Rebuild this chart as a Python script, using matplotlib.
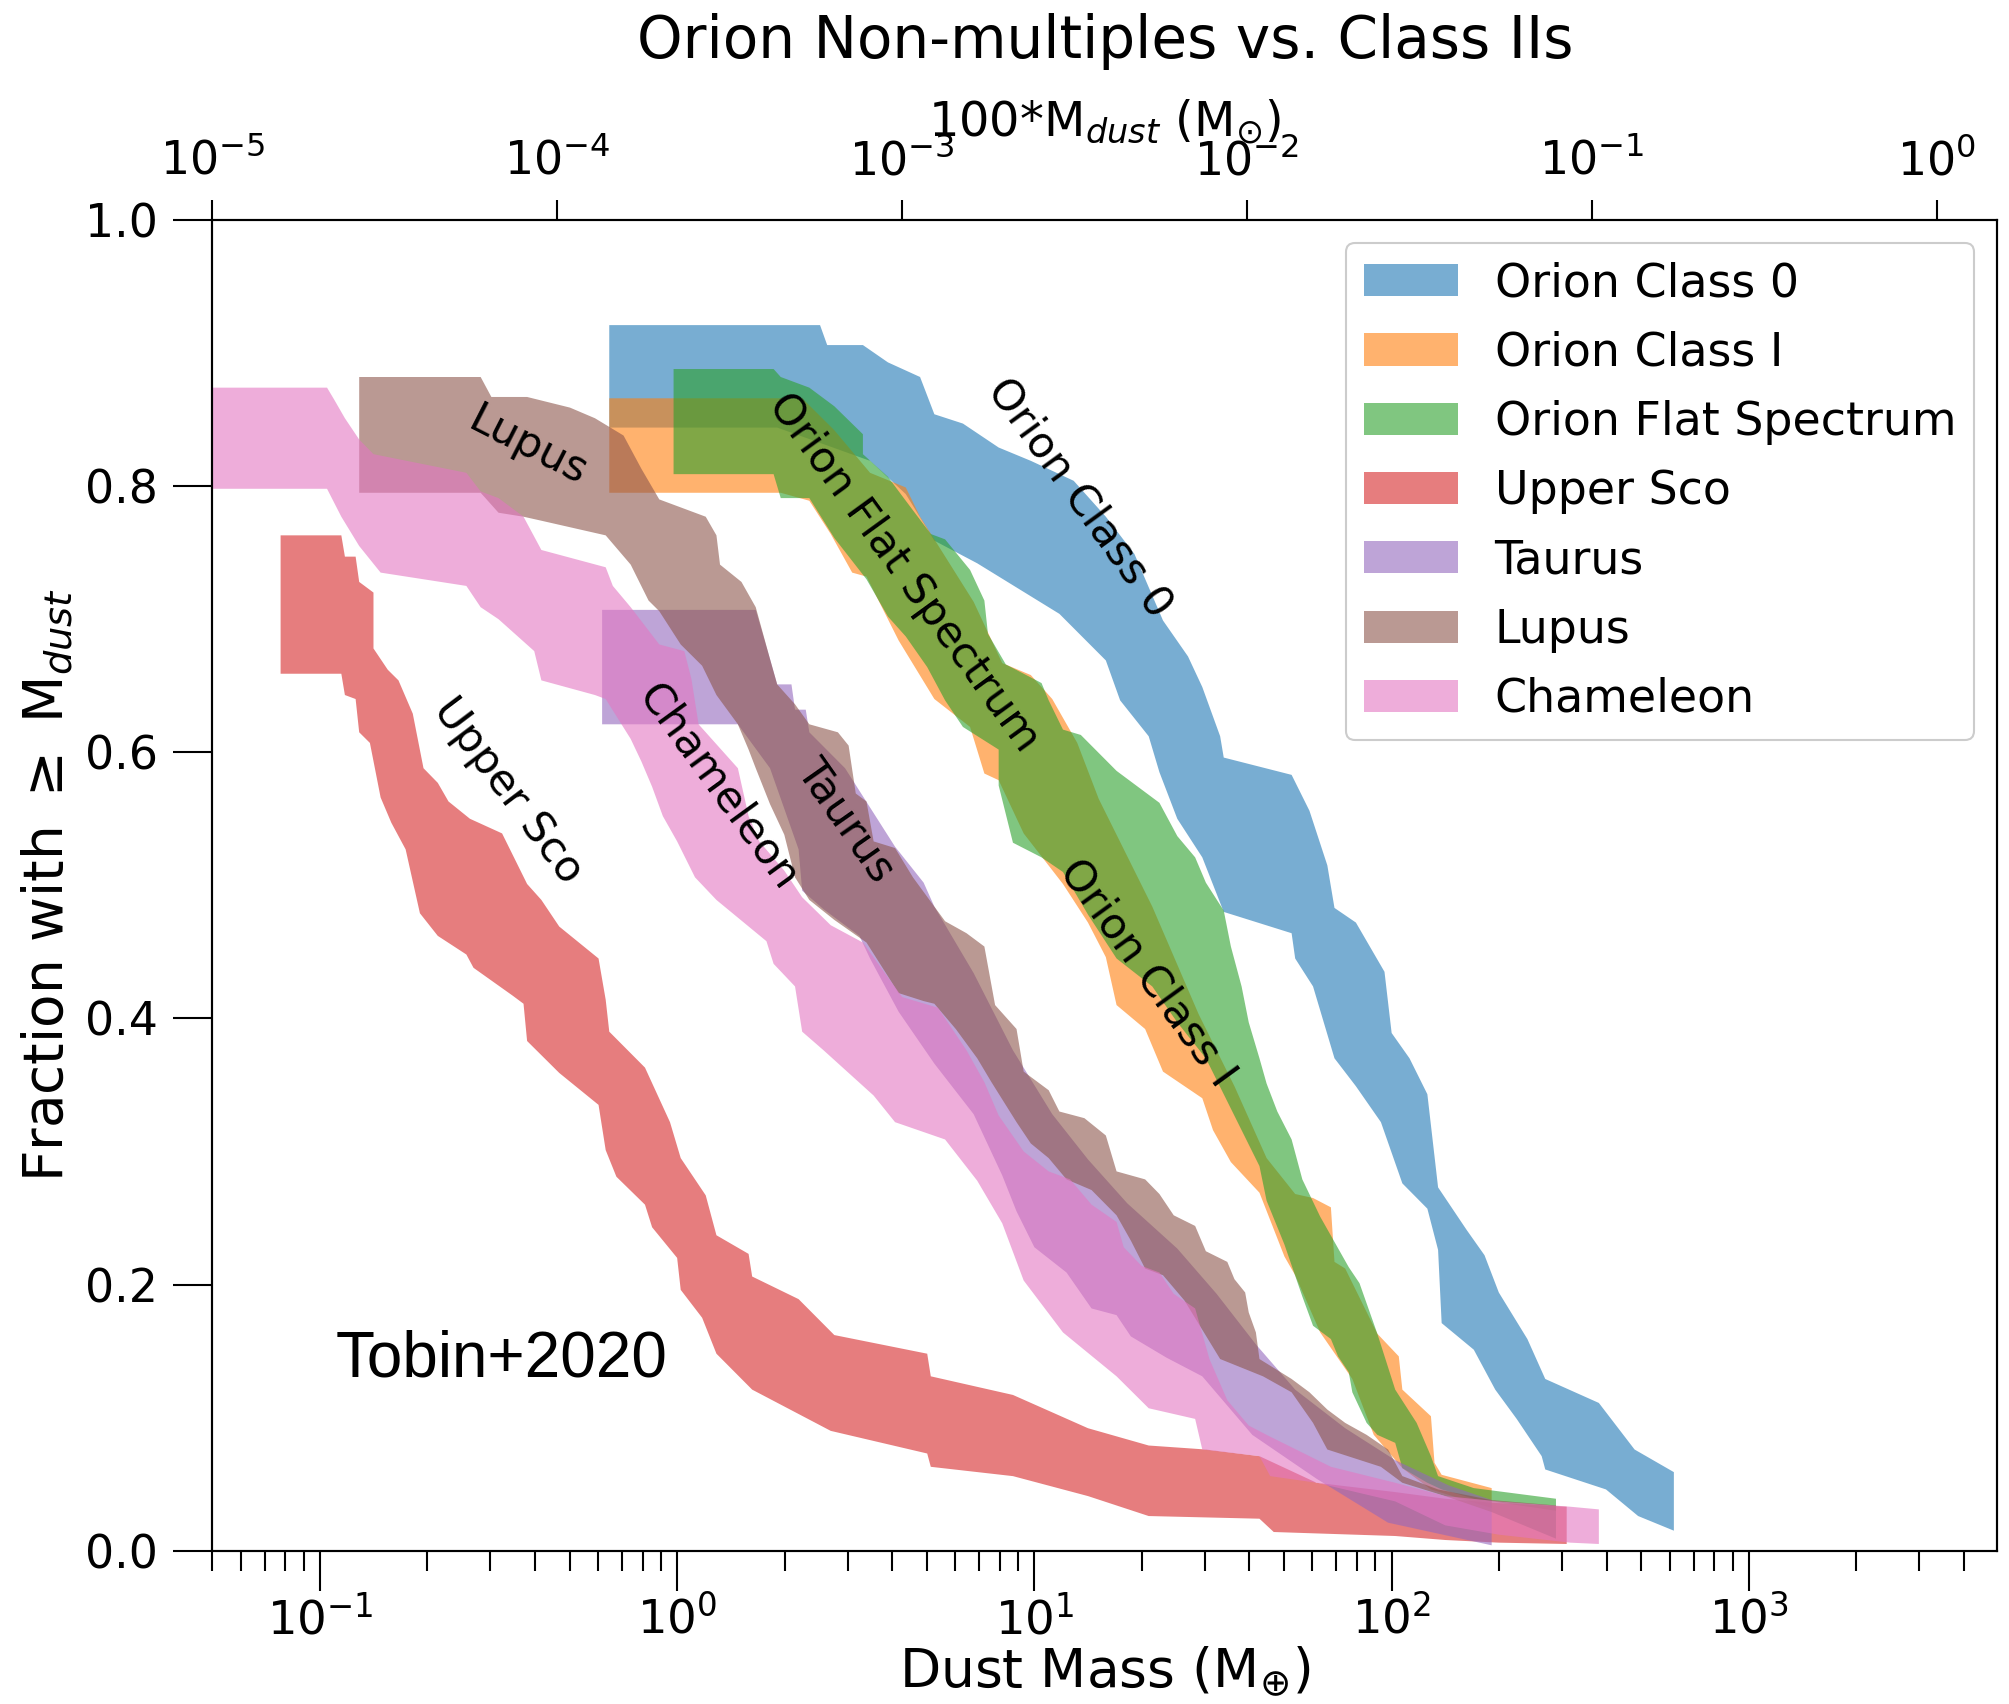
import numpy as np
import matplotlib
matplotlib.use("Agg")
import matplotlib.pyplot as plt
from matplotlib.ticker import LogLocator, NullLocator, NullFormatter

# ---------------- data: band edges, log10(M_dust / M_earth) and cumulative fraction ----------------
names = ["Orion Class 0", "Orion Class I", "Orion Flat Spectrum", "Upper Sco", "Taurus", "Lupus", "Chameleon"]
colors = ["#1f77b4", "#ff7f0e", "#2ca02c", "#d62728", "#9467bd", "#8c564b", "#e377c2"]

class0_hi_logm = [-0.19, 0.40, 0.42, 0.52, 0.59, 0.68, 0.72, 0.80, 0.90, 0.99, 1.11, 1.20, 1.28, 1.36, 1.43, 1.47, 1.52, 1.53,
                  1.72, 1.77, 1.82, 1.84, 1.90, 1.98, 2.00, 2.05, 2.10, 2.13, 2.21, 2.26, 2.30, 2.38, 2.43, 2.58, 2.68, 2.79]
class0_hi_frac = [0.921, 0.921, 0.906, 0.906, 0.893, 0.882, 0.854, 0.847, 0.829, 0.819, 0.804, 0.777, 0.749, 0.699, 0.672, 0.649,
                  0.612, 0.596, 0.583, 0.556, 0.515, 0.483, 0.472, 0.435, 0.389, 0.370, 0.343, 0.273, 0.241, 0.222, 0.194, 0.159,
                  0.129, 0.111, 0.076, 0.059]
class0_lo_logm = [-0.19, 0.28, 0.54, 0.64, 0.72, 0.84, 1.07, 1.20, 1.24, 1.32, 1.35, 1.40, 1.47, 1.53, 1.72, 1.73, 1.78, 1.84,
                  1.90, 1.97, 2.03, 2.10, 2.13, 2.14, 2.23, 2.29, 2.35, 2.42, 2.43, 2.60, 2.69, 2.79]
class0_lo_frac = [0.844, 0.844, 0.819, 0.794, 0.759, 0.742, 0.704, 0.669, 0.639, 0.612, 0.585, 0.550, 0.521, 0.480, 0.464, 0.445,
                  0.424, 0.370, 0.349, 0.322, 0.276, 0.257, 0.226, 0.171, 0.151, 0.121, 0.099, 0.071, 0.061, 0.046, 0.026, 0.015]

class1_hi_logm = [-0.19, 0.35, 0.44, 0.54, 0.64, 0.68, 0.72, 0.83, 0.91, 0.99, 1.05, 1.12, 1.18, 1.33, 1.46, 1.56, 1.65, 1.73,
                  1.78, 1.83, 1.84, 1.87, 1.96, 2.02, 2.03, 2.11, 2.12, 2.14, 2.28]
class1_hi_frac = [0.866, 0.866, 0.842, 0.810, 0.799, 0.777, 0.760, 0.713, 0.667, 0.658, 0.640, 0.607, 0.565, 0.484, 0.403, 0.349,
                  0.295, 0.268, 0.265, 0.258, 0.217, 0.212, 0.163, 0.146, 0.121, 0.101, 0.066, 0.057, 0.047]
class1_lo_logm = [-0.19, 0.29, 0.37, 0.43, 0.49, 0.53, 0.62, 0.72, 0.82, 0.86, 0.90, 0.97, 1.08, 1.15, 1.20, 1.23, 1.31, 1.36,
                  1.47, 1.50, 1.55, 1.63, 1.70, 1.73, 1.80, 1.89, 1.95, 2.03, 2.11, 2.28]
class1_lo_frac = [0.795, 0.795, 0.789, 0.764, 0.735, 0.732, 0.684, 0.640, 0.619, 0.584, 0.579, 0.539, 0.501, 0.472, 0.446, 0.410,
                  0.392, 0.360, 0.340, 0.316, 0.292, 0.269, 0.221, 0.207, 0.164, 0.129, 0.087, 0.062, 0.046, 0.032]

flat_hi_logm = [-0.01, 0.27, 0.29, 0.37, 0.44, 0.52, 0.52, 0.59, 0.64, 0.71, 0.75, 0.82, 0.86, 0.87, 0.92, 1.02, 1.04, 1.08,
                1.13, 1.23, 1.30, 1.35, 1.40, 1.45, 1.48, 1.53, 1.55, 1.58, 1.60, 1.63, 1.65, 1.68, 1.72, 1.75, 1.80, 1.88,
                1.91, 1.96, 2.01, 2.07, 2.11, 2.13, 2.23, 2.46]
flat_hi_frac = [0.888, 0.888, 0.882, 0.874, 0.860, 0.839, 0.824, 0.807, 0.789, 0.764, 0.760, 0.737, 0.714, 0.689, 0.666, 0.652,
                0.639, 0.617, 0.613, 0.586, 0.572, 0.562, 0.537, 0.521, 0.502, 0.481, 0.454, 0.424, 0.397, 0.370, 0.351, 0.330,
                0.309, 0.279, 0.251, 0.213, 0.201, 0.163, 0.121, 0.096, 0.071, 0.056, 0.047, 0.039]
flat_lo_logm = [-0.01, 0.27, 0.29, 0.37, 0.44, 0.53, 0.59, 0.64, 0.70, 0.75, 0.80, 0.90, 0.90, 0.94, 1.02, 1.08, 1.15, 1.23,
                1.33, 1.40, 1.48, 1.53, 1.58, 1.63, 1.65, 1.70, 1.75, 1.78, 1.83, 1.85, 1.88, 1.89, 1.93, 1.96, 2.01, 2.03,
                2.10, 2.14, 2.23, 2.46]
flat_lo_frac = [0.809, 0.809, 0.791, 0.791, 0.761, 0.730, 0.702, 0.687, 0.664, 0.639, 0.619, 0.602, 0.575, 0.532, 0.521, 0.510,
                0.478, 0.445, 0.424, 0.397, 0.370, 0.343, 0.316, 0.289, 0.263, 0.230, 0.191, 0.169, 0.159, 0.146, 0.134, 0.119,
                0.096, 0.087, 0.081, 0.062, 0.051, 0.046, 0.039, 0.030]

usco_hi_logm = [-1.11, -0.94, -0.93, -0.90, -0.89, -0.85, -0.85, -0.81, -0.78, -0.74, -0.71, -0.67, -0.64, -0.58, -0.49, -0.42,
                -0.38, -0.33, -0.22, -0.20, -0.19, -0.09, -0.02, 0.01, 0.08, 0.11, 0.20, 0.21, 0.34, 0.44, 0.70, 0.71, 0.94,
                1.15, 1.32, 1.48, 1.63, 1.79, 2.01, 2.15, 2.28, 2.49]
usco_hi_frac = [0.763, 0.763, 0.747, 0.747, 0.728, 0.720, 0.678, 0.662, 0.654, 0.629, 0.588, 0.577, 0.563, 0.550, 0.539, 0.501,
                0.489, 0.469, 0.445, 0.414, 0.390, 0.363, 0.322, 0.295, 0.267, 0.237, 0.223, 0.206, 0.189, 0.162, 0.148, 0.131,
                0.117, 0.092, 0.079, 0.076, 0.071, 0.051, 0.044, 0.039, 0.036, 0.033]
usco_lo_logm = [-1.11, -0.94, -0.93, -0.90, -0.89, -0.86, -0.83, -0.80, -0.76, -0.72, -0.67, -0.59, -0.57, -0.46, -0.43, -0.42,
                -0.33, -0.22, -0.20, -0.17, -0.09, -0.07, 0.00, 0.01, 0.07, 0.11, 0.21, 0.43, 0.70, 0.71, 0.94, 1.15, 1.32,
                1.63, 1.67, 2.01, 2.15, 2.30, 2.49]
usco_lo_frac = [0.659, 0.659, 0.643, 0.640, 0.615, 0.607, 0.566, 0.547, 0.527, 0.479, 0.462, 0.448, 0.438, 0.417, 0.411, 0.383,
                0.359, 0.335, 0.301, 0.281, 0.260, 0.243, 0.220, 0.196, 0.175, 0.148, 0.121, 0.090, 0.073, 0.063, 0.056, 0.041,
                0.026, 0.024, 0.014, 0.011, 0.008, 0.006, 0.005]

taurus_hi_logm = [-0.21, 0.22, 0.26, 0.28, 0.32, 0.33, 0.36, 0.37, 0.47, 0.61, 0.69, 0.72, 0.83, 0.94, 1.05, 1.15, 1.26, 1.40,
                  1.51, 1.62, 1.73, 1.87, 2.01, 2.16, 2.28]
taurus_hi_frac = [0.707, 0.707, 0.670, 0.651, 0.651, 0.632, 0.632, 0.615, 0.588, 0.529, 0.502, 0.484, 0.434, 0.376, 0.328, 0.294,
                  0.261, 0.227, 0.193, 0.155, 0.121, 0.092, 0.068, 0.049, 0.038]
taurus_lo_logm = [-0.21, 0.17, 0.26, 0.34, 0.35, 0.41, 0.51, 0.54, 0.62, 0.72, 0.83, 0.91, 0.95, 1.00, 1.09, 1.16, 1.23, 1.27,
                  1.37, 1.47, 1.61, 1.79, 1.99, 2.28]
taurus_lo_frac = [0.621, 0.621, 0.588, 0.527, 0.496, 0.482, 0.462, 0.445, 0.405, 0.366, 0.328, 0.282, 0.255, 0.228, 0.209, 0.182,
                  0.177, 0.161, 0.145, 0.131, 0.087, 0.054, 0.021, 0.004]

lupus_hi_logm = [-0.89, -0.55, -0.52, -0.42, -0.30, -0.23, -0.15, -0.10, -0.05, 0.08, 0.11, 0.12, 0.18, 0.22, 0.26, 0.28, 0.33,
                 0.37, 0.45, 0.48, 0.50, 0.53, 0.55, 0.61, 0.66, 0.75, 0.81, 0.86, 0.89, 0.95, 0.97, 1.04, 1.07, 1.14, 1.20,
                 1.23, 1.31, 1.35, 1.39, 1.45, 1.48, 1.54, 1.56, 1.59, 1.60, 1.62, 1.63, 1.72, 1.77, 1.82, 1.87, 1.93, 1.99,
                 2.01, 2.03, 2.13, 2.28, 2.46]
lupus_hi_frac = [0.882, 0.882, 0.867, 0.867, 0.859, 0.851, 0.838, 0.813, 0.790, 0.777, 0.763, 0.741, 0.728, 0.709, 0.670, 0.651,
                 0.636, 0.621, 0.615, 0.605, 0.569, 0.563, 0.533, 0.528, 0.506, 0.473, 0.464, 0.454, 0.410, 0.392, 0.360, 0.346,
                 0.330, 0.325, 0.312, 0.285, 0.279, 0.268, 0.252, 0.244, 0.225, 0.217, 0.204, 0.194, 0.179, 0.164, 0.144, 0.129,
                 0.119, 0.106, 0.096, 0.087, 0.076, 0.066, 0.056, 0.046, 0.038, 0.034]
lupus_lo_logm = [-0.89, -0.55, -0.50, -0.43, -0.38, -0.20, -0.13, -0.08, -0.05, 0.01, 0.07, 0.11, 0.17, 0.20, 0.22, 0.26, 0.30,
                 0.33, 0.37, 0.44, 0.53, 0.62, 0.69, 0.72, 0.78, 0.84, 0.88, 0.95, 0.99, 1.04, 1.09, 1.16, 1.23, 1.27, 1.31,
                 1.36, 1.42, 1.47, 1.52, 1.64, 1.72, 1.78, 1.82, 1.97, 2.03, 2.15, 2.28, 2.46]
lupus_lo_frac = [0.795, 0.795, 0.780, 0.777, 0.774, 0.763, 0.741, 0.714, 0.706, 0.681, 0.665, 0.643, 0.621, 0.602, 0.588, 0.561,
                 0.538, 0.506, 0.489, 0.474, 0.457, 0.419, 0.413, 0.411, 0.392, 0.370, 0.352, 0.322, 0.306, 0.295, 0.279, 0.271,
                 0.252, 0.233, 0.212, 0.207, 0.188, 0.166, 0.144, 0.131, 0.119, 0.096, 0.076, 0.063, 0.051, 0.041, 0.029, 0.009]

cham_hi_logm = [-1.30, -0.98, -0.96, -0.93, -0.89, -0.85, -0.59, -0.55, -0.50, -0.43, -0.38, -0.20, -0.18, -0.13, -0.05, 0.02,
                0.04, 0.06, 0.17, 0.20, 0.23, 0.30, 0.35, 0.43, 0.52, 0.63, 0.73, 0.81, 0.86, 0.90, 0.97, 1.04, 1.10, 1.16,
                1.23, 1.25, 1.30, 1.35, 1.39, 1.45, 1.49, 1.54, 1.60, 1.65, 1.77, 1.83, 2.01, 2.15, 2.30, 2.50, 2.58]
cham_hi_frac = [0.874, 0.874, 0.865, 0.851, 0.835, 0.824, 0.810, 0.796, 0.791, 0.777, 0.752, 0.739, 0.725, 0.709, 0.681, 0.676,
                0.655, 0.621, 0.588, 0.552, 0.533, 0.511, 0.491, 0.470, 0.457, 0.416, 0.408, 0.376, 0.352, 0.327, 0.300, 0.285,
                0.279, 0.260, 0.247, 0.228, 0.214, 0.209, 0.193, 0.182, 0.144, 0.113, 0.094, 0.087, 0.071, 0.063, 0.051, 0.041,
                0.037, 0.033, 0.031]
cham_lo_logm = [-1.30, -0.98, -0.94, -0.89, -0.83, -0.59, -0.55, -0.50, -0.40, -0.38, -0.23, -0.20, -0.13, -0.10, -0.07, -0.04,
                0.00, 0.05, 0.11, 0.25, 0.27, 0.33, 0.35, 0.41, 0.55, 0.61, 0.75, 0.84, 0.91, 0.97, 1.08, 1.23, 1.32, 1.45,
                1.47, 1.63, 1.66, 1.79, 2.01, 2.15, 2.30, 2.50, 2.58]
cham_lo_frac = [0.798, 0.798, 0.777, 0.755, 0.735, 0.725, 0.709, 0.700, 0.676, 0.654, 0.643, 0.640, 0.610, 0.593, 0.574, 0.552,
                0.533, 0.506, 0.489, 0.458, 0.441, 0.424, 0.390, 0.376, 0.342, 0.322, 0.309, 0.278, 0.246, 0.203, 0.164, 0.131,
                0.107, 0.099, 0.076, 0.071, 0.056, 0.051, 0.037, 0.019, 0.012, 0.006, 0.005]

band_edges = [
    (class0_hi_logm, class0_hi_frac, class0_lo_logm, class0_lo_frac),
    (class1_hi_logm, class1_hi_frac, class1_lo_logm, class1_lo_frac),
    (flat_hi_logm, flat_hi_frac, flat_lo_logm, flat_lo_frac),
    (usco_hi_logm, usco_hi_frac, usco_lo_logm, usco_lo_frac),
    (taurus_hi_logm, taurus_hi_frac, taurus_lo_logm, taurus_lo_frac),
    (lupus_hi_logm, lupus_hi_frac, lupus_lo_logm, lupus_lo_frac),
    (cham_hi_logm, cham_hi_frac, cham_lo_logm, cham_lo_frac),
]

# in-plot labels: text, log10 mass, fraction, rotation
label_text = ["Orion Class 0", "Orion Flat Spectrum", "Orion Class I", "Lupus", "Upper Sco", "Chameleon", "Taurus"]
label_logm = [1.127, 0.635, 1.316, -0.418, -0.473, 0.115, 0.472]
label_frac = [0.791, 0.735, 0.434, 0.830, 0.571, 0.574, 0.549]
label_rot = [-54, -54, -54, -27, -53, -54, -55]

# ---------------- figure ----------------
plt.rcParams["font.family"] = ["DejaVu Sans"]
fig = plt.figure(figsize=(20.09, 17.04), dpi=100)
ax = fig.add_axes([0.1057, 0.0900, 0.8885, 0.7809])

for name, col, (hl, hf, ll, lf) in zip(names, colors, band_edges):
    xs = np.concatenate([10.0 ** np.asarray(hl), (10.0 ** np.asarray(ll))[::-1]])
    ys = np.concatenate([np.asarray(hf), np.asarray(lf)[::-1]])
    ax.fill(xs, ys, color=col, alpha=0.6, lw=0, label=name)

ax.set_xscale("log")
ax.set_xlim(0.05, 4960)
ax.set_ylim(0, 1)
ax.set_yticks([0.0, 0.2, 0.4, 0.6, 0.8, 1.0])
ax.xaxis.set_major_locator(LogLocator(base=10, numticks=20))
ax.xaxis.set_minor_locator(LogLocator(base=10, subs=np.arange(2, 10), numticks=100))
ax.xaxis.set_minor_formatter(NullFormatter())
ax.tick_params(axis="x", which="major", length=28.8, width=1.5, labelsize=33.5, pad=4, direction="out")
ax.tick_params(axis="x", which="minor", length=14.4, width=1.5, direction="out")
ax.tick_params(axis="y", which="major", length=28, width=1.5, labelsize=33, pad=11, direction="out")
ax.tick_params(top=False, right=False)
for sp in ax.spines.values():
    sp.set_linewidth(1.5)

ax.set_xlabel("Dust Mass (M$_{\\oplus}$)", fontsize=38.5)
ax.xaxis.set_label_coords(0.5, -0.0908)
ax.xaxis.label.set_va("center")
ax.set_ylabel("Fraction with $\\geq$ M$_{dust}$", fontsize=39.5)
ax.yaxis.set_label_coords(-0.0928, 0.5)
ax.yaxis.label.set_va("center")

leg = ax.legend(loc="upper right", fontsize=33, frameon=True, fancybox=True,
                edgecolor="#cccccc", framealpha=1.0, handlelength=2.05, labelspacing=0.53)
leg.get_frame().set_linewidth(1.5)

for t, lm, fr, rot in zip(label_text, label_logm, label_frac, label_rot):
    ax.text(10.0 ** lm, fr, t, rotation=rot, rotation_mode="anchor", ha="center", va="center", fontsize=31)

ax.text(0.111, 0.1305, "Tobin+2020", fontsize=46, family=["Liberation Sans", "DejaVu Sans"], ha="left", va="baseline")

# top axis: 100*M_dust in solar masses
ax2 = ax.twiny()
ax2.set_xscale("log")
ax2.set_xlim(1e-5, 1.5)
ax2.xaxis.set_major_locator(LogLocator(base=10, numticks=20))
ax2.xaxis.set_minor_locator(NullLocator())
ax2.tick_params(axis="x", which="major", length=14.4, width=1.5, labelsize=33, pad=11, direction="out")
ax2.set_xlabel("100*M$_{dust}$ (M$_{\\odot}$)", fontsize=34.5)
ax2.xaxis.set_label_coords(0.5, 1.0735)
ax2.xaxis.label.set_va("center")
for sp in ax2.spines.values():
    sp.set_linewidth(1.5)

fig.text(0.5500, 1 - 42 / 1704, "Orion Non-multiples vs. Class IIs", fontsize=41.8, ha="center", va="center")

fig.savefig("out.png", dpi=100)
